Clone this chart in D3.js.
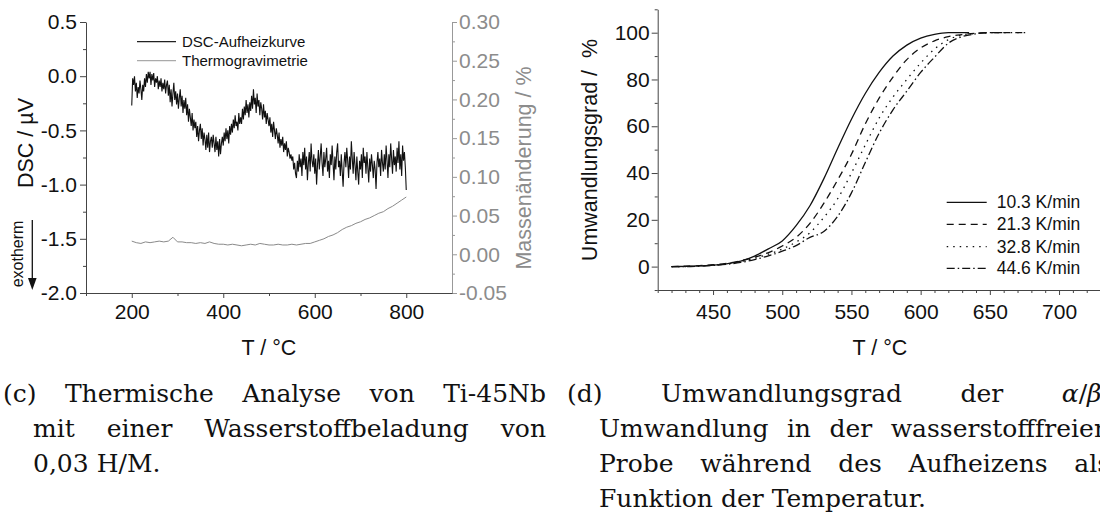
<!DOCTYPE html>
<html><head><meta charset="utf-8">
<script src="https://cdn.jsdelivr.net/npm/d3@7"></script>
<style>body{margin:0;background:#fff}svg{display:block}</style>
</head><body>
<svg id="c" width="1100" height="515"></svg>
<script>
// ---------- data: panel (c) ----------
const dscStart = 200, dscStep = 2;
const dscValues = [
 -0.27,-0.02,-0.08,0.00,-0.14,-0.06,-0.20,-0.10,-0.16,-0.04,
 -0.12,-0.22,-0.08,-0.14,-0.02,-0.10,0.02,-0.06,0.04,-0.02,
 0.04,-0.08,0.02,-0.04,0.03,-0.10,-0.02,-0.06,0.00,-0.12,
 -0.04,-0.10,-0.02,-0.14,-0.06,-0.12,-0.03,-0.16,-0.08,-0.04,
 -0.18,-0.08,-0.24,-0.12,-0.28,-0.16,-0.06,-0.22,-0.14,-0.26,
 -0.16,-0.30,-0.20,-0.12,-0.28,-0.18,-0.34,-0.22,-0.30,-0.20,
 -0.36,-0.26,-0.42,-0.30,-0.38,-0.46,-0.34,-0.50,-0.40,-0.48,
 -0.42,-0.56,-0.46,-0.60,-0.50,-0.44,-0.58,-0.48,-0.64,-0.52,
 -0.58,-0.68,-0.54,-0.66,-0.52,-0.70,-0.60,-0.56,-0.66,-0.54,
 -0.62,-0.70,-0.56,-0.68,-0.60,-0.74,-0.58,-0.72,-0.62,-0.56,
 -0.64,-0.52,-0.60,-0.48,-0.58,-0.50,-0.62,-0.46,-0.54,-0.44,
 -0.52,-0.40,-0.48,-0.36,-0.46,-0.42,-0.50,-0.34,-0.44,-0.38,
 -0.44,-0.30,-0.40,-0.28,-0.36,-0.22,-0.34,-0.26,-0.38,-0.24,
 -0.32,-0.18,-0.30,-0.12,-0.26,-0.20,-0.34,-0.16,-0.28,-0.22,
 -0.36,-0.24,-0.30,-0.40,-0.26,-0.38,-0.32,-0.44,-0.34,-0.40,
 -0.46,-0.38,-0.52,-0.44,-0.56,-0.42,-0.50,-0.58,-0.48,-0.54,
 -0.62,-0.52,-0.66,-0.58,-0.64,-0.56,-0.70,-0.62,-0.68,-0.60,
 -0.74,-0.66,-0.70,-0.76,-0.72,-0.78,-0.74,-0.86,-0.80,-0.90,
 -0.94,-0.78,-0.88,-0.72,-0.84,-0.76,-0.92,-0.70,-0.82,-0.66,
 -0.86,-0.74,-0.96,-0.80,-0.70,-0.88,-0.62,-0.78,-0.84,-0.72,
 -0.90,-0.76,-1.00,-0.82,-0.68,-0.86,-0.74,-0.62,-0.80,-0.92,
 -0.70,-0.84,-0.76,-0.66,-0.88,-0.78,-0.94,-0.72,-0.82,-0.64,
 -0.80,-0.96,-0.74,-0.86,-0.70,-0.62,-0.84,-0.78,-0.92,-0.72,
 -0.88,-1.02,-0.80,-0.70,-0.84,-0.66,-0.78,-0.94,-0.74,-0.86,
 -0.60,-0.76,-0.90,-0.70,-0.82,-0.96,-0.74,-0.88,-1.00,-0.78,
 -0.86,-0.72,-0.94,-0.66,-0.80,-0.74,-0.90,-0.70,-0.84,-0.98,
 -0.76,-0.88,-0.72,-0.82,-0.94,-0.78,-0.86,-1.04,-0.80,-0.70,
 -0.84,-0.76,-0.92,-0.68,-0.80,-0.88,-0.72,-0.86,-0.64,-0.78,
 -0.94,-0.72,-0.84,-0.62,-0.76,-0.90,-0.68,-0.82,-0.74,-0.88,
 -0.66,-0.80,-0.60,-0.86,-0.72,-0.92,-0.64,-0.78,-0.70,-0.84,
 -1.05
];
const tgStart = 200, tgStep = 10;
const tgValues = [
 0.017,0.015,0.014,0.016,0.015,0.016,0.017,0.016,0.017,0.022,
 0.016,0.016,0.015,0.015,0.014,0.015,0.014,0.016,0.014,0.013,
 0.013,0.012,0.013,0.012,0.011,0.012,0.013,0.012,0.014,0.013,
 0.012,0.012,0.013,0.012,0.012,0.013,0.012,0.013,0.014,0.014,
 0.016,0.018,0.020,0.023,0.025,0.028,0.032,0.035,0.037,0.040,
 0.042,0.045,0.047,0.050,0.053,0.055,0.059,0.062,0.066,0.070,
 0.074
];
const dscTicks = [-2.0,-1.5,-1.0,-0.5,0.0,0.5];
const massTicks = [-0.05,0.00,0.05,0.10,0.15,0.20,0.25,0.30];
const tTicksC = [200,400,600,800];
const legendC = ["DSC-Aufheizkurve","Thermogravimetrie"];

// ---------- data: panel (d) ----------
const rateLabels = ["10.3 K/min","21.3 K/min","32.8 K/min","44.6 K/min"];
const temps103 = [420,430,440,450,460,470,480,490,500,510,520,530,540,550,560,570,580,590,600,610,620,630,635];
const conv103  = [0,0.1,0.3,0.6,1.2,2.3,4.5,7.6,11,17.5,26,37.5,50.5,63,74,83,90,94.7,97.7,99.3,100,100,100];
const temps213 = [420,430,440,450,460,470,480,490,500,510,520,530,540,550,560,570,580,590,600,610,620,630,640,650,660,670,677];
const conv213  = [0,0.2,0.4,0.8,1.4,2.5,4,6,8.8,12.5,18.5,27,37,48,61,72,81,88.5,93.5,96.5,98.3,99.2,99.8,100,100,100,100];
const temps328 = [420,430,440,450,460,470,480,490,500,510,520,530,540,550,560,570,580,590,600,610,620,630,640,650,660,670,677];
const conv328  = [0,0,0.3,0.6,1.2,2.2,3.5,5.3,7.5,10.5,14.5,21,29,40,52,63.5,72.5,80,87,93,97,99,99.7,100,100,100,100];
const temps446 = [420,430,440,450,460,470,480,490,500,510,520,530,540,550,560,570,580,590,600,610,620,630,640,650,660];
const conv446  = [0,0,0.2,0.5,1,1.8,3,4.6,6.6,9,12.5,15,21.5,31.5,44.5,57,67,75,83,89.5,95.5,98.3,99.5,100,100];
const convTicks = [0,20,40,60,80,100];
const tTicksD = [450,500,550,600,650,700];

// ---------- setup ----------
const svg = d3.select("#c");
const SANS = "'Liberation Sans', Arial, Helvetica, sans-serif";
const SERIF = "'DejaVu Serif', serif";
const fmtMinus = f => v => f(v).replace("\u2212","-");

function styleAxis(g, color, fs){
  g.attr("font-family", SANS).attr("font-size", fs);
  g.select(".domain").attr("stroke", color);
  g.selectAll(".tick line").attr("stroke", color);
  g.selectAll(".tick text").attr("fill", color === "#999" ? "#8c8c8c" : "#111");
}

// ===== Panel (c) =====
const xC = d3.scaleLinear([100,900],[86,452]);
const yC = d3.scaleLinear([-2,0.5],[293,22]);
const yM = d3.scaleLinear([-0.05,0.30],[293,22]);
const gC = svg.append("g");

gC.append("g").attr("transform","translate(86,0)")
  .call(d3.axisLeft(yC).tickValues([-1.75,-1.25,-0.75,-0.25,0.25]).tickSize(3).tickFormat("").tickSizeOuter(0))
  .call(g=>{g.select(".domain").remove(); g.selectAll("line").attr("stroke","#444");});
gC.append("g").attr("transform","translate(452,0)")
  .call(d3.axisRight(yM).tickValues([-0.025,0.025,0.075,0.125,0.175,0.225,0.275]).tickSize(3).tickFormat("").tickSizeOuter(0))
  .call(g=>{g.select(".domain").remove(); g.selectAll("line").attr("stroke","#999");});
gC.append("g").attr("transform","translate(0,293)")
  .call(d3.axisBottom(xC).tickValues([100,300,500,700]).tickSize(3).tickFormat("").tickSizeOuter(0))
  .call(g=>{g.select(".domain").remove(); g.selectAll("line").attr("stroke","#444");});

gC.append("g").attr("transform","translate(86,0)")
  .call(d3.axisLeft(yC).tickValues(dscTicks).tickSize(6).tickPadding(3).tickSizeOuter(0).tickFormat(fmtMinus(d3.format(".1f"))))
  .call(g=>styleAxis(g,"#444",21));
gC.append("g").attr("transform","translate(452,0)")
  .call(d3.axisRight(yM).tickValues(massTicks).tickSize(5).tickPadding(2).tickSizeOuter(0).tickFormat(fmtMinus(d3.format(".2f"))))
  .call(g=>styleAxis(g,"#999",21));
gC.append("g").attr("transform","translate(0,293)")
  .call(d3.axisBottom(xC).tickValues(tTicksC).tickSize(5).tickPadding(6).tickSizeOuter(0))
  .call(g=>styleAxis(g,"#444",21));

const dscData = dscValues.map((v,i)=>[dscStart+i*dscStep, v]);
const tgData = tgValues.map((v,i)=>[tgStart+i*tgStep, v]);
gC.append("path").datum(tgData)
  .attr("d", d3.line().x(d=>xC(d[0])).y(d=>yM(d[1])))
  .attr("fill","none").attr("stroke","#8a8a8a").attr("stroke-width",1);
gC.append("path").datum(dscData)
  .attr("d", d3.line().x(d=>xC(d[0])).y(d=>yC(d[1])))
  .attr("fill","none").attr("stroke","#111").attr("stroke-width",1.1);

const legC = gC.append("g").attr("font-family",SANS).attr("font-size",15);
[["#222",41.7],["#aaa",60.7]].forEach(([col,y],i)=>{
  legC.append("line").attr("x1",137).attr("x2",176).attr("y1",y).attr("y2",y).attr("stroke",col).attr("stroke-width",1.3);
  legC.append("text").attr("x",182).attr("y",y).attr("dy","0.35em").attr("fill","#111").text(legendC[i]);
});

gC.append("text").attr("transform","translate(25.5,143) rotate(-90)").attr("dy","0.35em")
  .attr("text-anchor","middle").attr("font-family",SANS).attr("font-size",21.5).attr("fill","#111").text("DSC / µV");
gC.append("text").attr("transform","translate(17,254) rotate(-90)").attr("dy","0.35em")
  .attr("text-anchor","middle").attr("font-family",SANS).attr("font-size",16).attr("fill","#111").text("exotherm");
gC.append("line").attr("x1",32.3).attr("x2",32.3).attr("y1",220).attr("y2",280).attr("stroke","#111").attr("stroke-width",1.3);
gC.append("path").attr("d","M28,278 L36.6,278 L32.3,290 Z").attr("fill","#111");
gC.append("text").attr("transform","translate(523,168) rotate(-90)").attr("dy","0.35em")
  .attr("text-anchor","middle").attr("font-family",SANS).attr("font-size",21.5).attr("fill","#8c8c8c").text("Massenänderung / %");
gC.append("text").attr("x",269).attr("y",347).attr("dy","0.35em")
  .attr("text-anchor","middle").attr("font-family",SANS).attr("font-size",21.5).attr("fill","#111").text("T / °C");

// ===== Panel (d) =====
const xD = d3.scaleLinear([410,740],[657.7,1114.4]);
const yD = d3.scaleLinear([-10,110],[290,9.3]);
const gD = svg.append("g");
const minorX = d3.range(410,741,10).filter(v=>v%50!==0);
gD.append("g").attr("transform","translate(657.7,0)")
  .call(d3.axisLeft(yD).tickValues([-10,10,30,50,70,90,110]).tickSize(3).tickFormat("").tickSizeOuter(0))
  .call(g=>{g.select(".domain").remove(); g.selectAll("line").attr("stroke","#444");});
gD.append("g").attr("transform","translate(0,290)")
  .call(d3.axisBottom(xD).tickValues(minorX).tickSize(3).tickFormat("").tickSizeOuter(0))
  .call(g=>{g.select(".domain").remove(); g.selectAll("line").attr("stroke","#444");});
gD.append("g").attr("transform","translate(657.7,0)")
  .call(d3.axisLeft(yD).tickValues(convTicks).tickSize(6).tickPadding(2).tickSizeOuter(0))
  .call(g=>styleAxis(g,"#444",21));
gD.append("g").attr("transform","translate(0,290)")
  .call(d3.axisBottom(xD).tickValues(tTicksD).tickSize(5).tickPadding(9).tickSizeOuter(0))
  .call(g=>styleAxis(g,"#444",21));

const series = [
  {t:temps103, v:conv103, dash:null},
  {t:temps213, v:conv213, dash:"7,5"},
  {t:temps328, v:conv328, dash:"1.5,5"},
  {t:temps446, v:conv446, dash:"8,3,1.5,3"}
];
const lineD = d3.line().x(d=>xD(d[0])).y(d=>yD(d[1])).curve(d3.curveMonotoneX);
series.forEach(s=>{
  gD.append("path").datum(s.t.map((t,i)=>[t,s.v[i]]))
    .attr("d",lineD).attr("fill","none").attr("stroke","#111").attr("stroke-width",1.3)
    .attr("stroke-dasharray",s.dash);
});
const legD = gD.append("g").attr("font-family",SANS).attr("font-size",17.5);
[202.3,224.3,246.7,268.3].forEach((y,i)=>{
  legD.append("line").attr("x1",946.7).attr("x2",986.7).attr("y1",y).attr("y2",y)
    .attr("stroke","#111").attr("stroke-width",1.3).attr("stroke-dasharray",series[i].dash);
  legD.append("text").attr("x",996.7).attr("y",y).attr("dy","0.35em").attr("fill","#111").text(rateLabels[i]);
});
gD.append("text").attr("transform","translate(589,150) rotate(-90)").attr("dy","0.35em")
  .attr("text-anchor","middle").attr("font-family",SANS).attr("font-size",21.5).attr("fill","#111")
  .attr("xml:space","preserve").style("white-space","pre").text("Umwandlungsgrad /  %");
gD.append("text").attr("x",880).attr("y",347).attr("dy","0.35em")
  .attr("text-anchor","middle").attr("font-family",SANS).attr("font-size",21.5).attr("fill","#111").text("T / °C");

// ===== Captions =====
const cap = svg.append("g").attr("font-family",SERIF).attr("font-size",25).attr("fill","#111");
function capLine(words, x0, x1, y, justify){
  const nodes = words.map(w=>{
    const t = cap.append("text").attr("y",y);
    (Array.isArray(w)?w:[[w,false]]).forEach(([s,it])=>t.append("tspan").attr("font-style",it?"italic":null).text(s));
    return t;
  });
  const widths = nodes.map(n=>n.node().getComputedTextLength());
  const gap = justify ? (x1-x0-d3.sum(widths))/(nodes.length-1) : 8;
  let x = x0;
  nodes.forEach((n,i)=>{ n.attr("x",x); x += widths[i]+gap; });
}
capLine(["(c)","Thermische","Analyse","von","Ti-45Nb"],3,546,402,true);
capLine(["mit","einer","Wasserstoffbeladung","von"],33,546,437,true);
capLine(["0,03","H/M."],33,0,472,false);
capLine(["(d)","Umwandlungsgrad","der",[["α",true],["/",false],["β",true],["-",false]]],567,1110,402,true);
capLine(["Umwandlung","in","der","wasserstofffreien"],599,1110,437,true);
capLine(["Probe","während","des","Aufheizens","als"],599,1110,472,true);
capLine(["Funktion","der","Temperatur."],599,0,507,false);
</script>
</body></html>
